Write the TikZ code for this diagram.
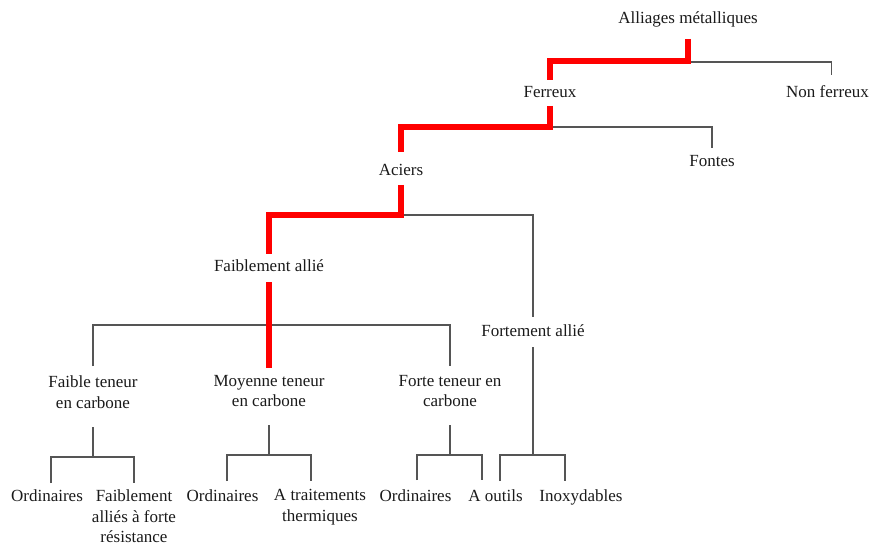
\documentclass[tikz,border=0pt]{standalone}
\usepackage{fontspec}
\setmainfont{Liberation Serif}
\definecolor{lg}{HTML}{555555}
\definecolor{tx}{HTML}{1A1A1A}
\begin{document}
\begin{tikzpicture}[x=1pt,y=-1pt,
  lbl/.style={font=\fontsize{17}{20.5}\selectfont, text=tx, inner sep=0pt, align=center},
  gl/.style={draw=lg, line width=1.6pt},
  rl/.style={draw=red, line width=5.5pt}]
\useasboundingbox (0,0) rectangle (869,545);
% nodes
\node[lbl, anchor=base] (am) at (688,24) {Alliages métalliques};
\node[lbl, anchor=base] (fe) at (550,97.5) {Ferreux};
\node[lbl, anchor=base] (nf) at (827.5,97.5) {Non ferreux};
\node[lbl, anchor=base] (fo) at (712,166.5) {Fontes};
\node[lbl, anchor=base] (ac) at (401,175.5) {Aciers};
\node[lbl, anchor=base] (fa) at (269,271.5) {Faiblement allié};
\node[lbl, anchor=base] (ft) at (533,336.5) {Fortement allié};
\node[lbl, anchor=north] (ftc) at (93,376) {Faible teneur\\en carbone};
\node[lbl, anchor=north] (mtc) at (269,375) {Moyenne teneur\\en carbone};
\node[lbl, anchor=north] (fortec) at (450,375) {Forte teneur en\\carbone};
\node[lbl, anchor=base] (o1) at (47,501) {Ordinaires};
\node[lbl, anchor=north] (fb) at (134,489.5) {Faiblement\\alliés à forte\\résistance};
\node[lbl, anchor=base] (o2) at (222.5,501) {Ordinaires};
\node[lbl, anchor=north] (at) at (320,489.5) {A traitements\\thermiques};
\node[lbl, anchor=base] (o3) at (415.5,501) {Ordinaires};
\node[lbl, anchor=base] (ao) at (495.5,501) {A outils};
\node[lbl, anchor=base] (in) at (581,501) {Inoxydables};
% level 1
\draw[gl] (am.base |- 0,62) -| ([xshift=4pt]nf.base |- 0,75);
\draw[rl] (am.base |- 0,39) |- (fe.base |- 0,61) -- (fe.base |- 0,80);
% Ferreux
\draw[gl] (fe.base |- 0,127) -| (fo.base |- 0,148);
\draw[rl] (fe.base |- 0,106) |- (ac.base |- 0,127) -- (ac.base |- 0,152);
% Aciers
\draw[gl] (ac.base |- 0,215) -| (ft.base |- 0,317);
\draw[rl] (ac.base |- 0,185) |- (fa.base |- 0,215) -- (fa.base |- 0,254);
% Faiblement allie
\draw[gl] (ftc.north |- 0,366) |- (fortec.north |- 0,325) -- (fortec.north |- 0,366);
\draw[rl] (fa.base |- 0,282) -- (mtc.north |- 0,368);
% Fortement allie
\draw[gl] (ft.base |- 0,347) -- (ft.base |- 0,455);
\draw[gl] ([xshift=4.5pt]ao.base |- 0,481) |- ([xshift=-16pt]in.base |- 0,455) -- ([xshift=-16pt]in.base |- 0,481);
% Faible teneur
\draw[gl] (ftc.south |- 0,427) -- (ftc.south |- 0,457);
\draw[gl] ([xshift=4pt]o1.base |- 0,483) |- (fb.north |- 0,457) -- (fb.north |- 0,483);
% Moyenne teneur
\draw[gl] (mtc.south |- 0,425) -- (mtc.south |- 0,455);
\draw[gl] ([xshift=4.5pt]o2.base |- 0,481) |- ([xshift=-9pt]at.north |- 0,455) -- ([xshift=-9pt]at.north |- 0,481);
% Forte teneur
\draw[gl] (fortec.south |- 0,425) -- (fortec.south |- 0,455);
\draw[gl] ([xshift=1.5pt]o3.base |- 0,480) |- ([xshift=-13.5pt]ao.base |- 0,455) -- ([xshift=-13.5pt]ao.base |- 0,480);
\end{tikzpicture}
\end{document}
